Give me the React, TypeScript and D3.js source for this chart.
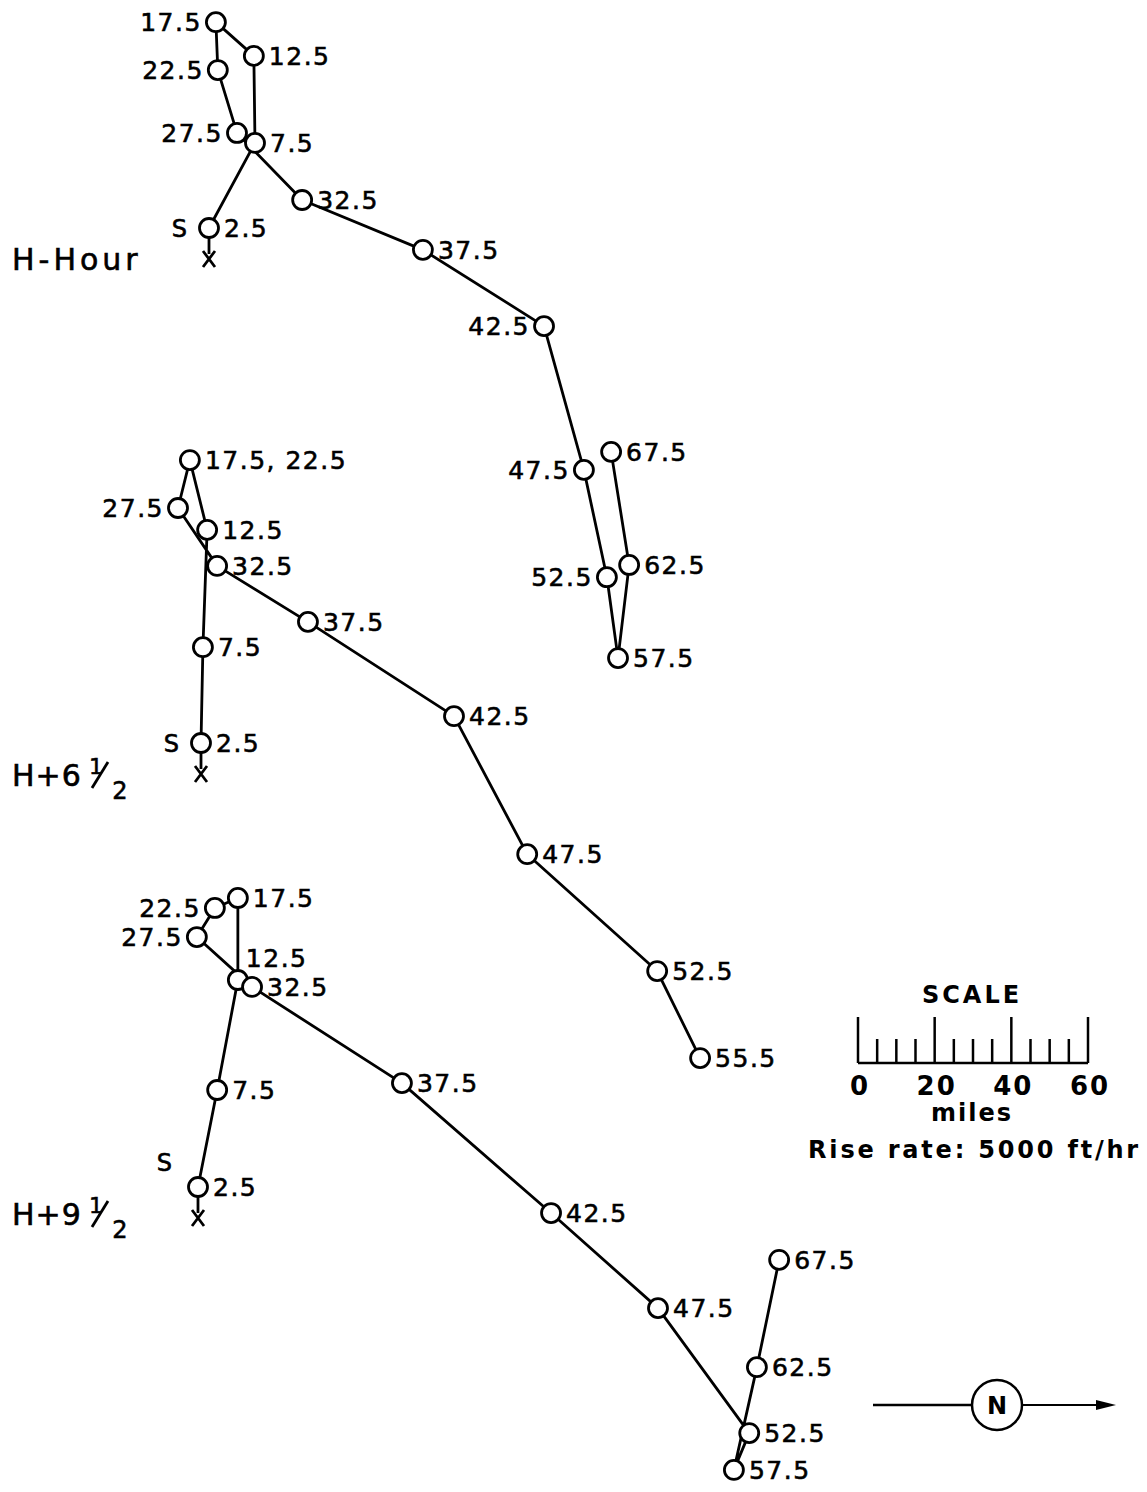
import React from 'react';
import * as d3 from 'd3';

const W = 1147;
const H = 1492;

// altitude labels (thousand ft) and balloon positions in miles from launch point S
// north is to the right on this map, so "north" is x and "east" is y (down)
const hourAlt = ['2.5', '7.5', '12.5', '17.5', '22.5', '27.5', '32.5', '37.5', '42.5', '47.5', '52.5', '57.5', '62.5', '67.5'];
const hourNorth = [0, 12.0, 11.7, 1.8, 2.3, 7.3, 24.3, 55.8, 87.4, 97.8, 103.8, 106.7, 109.6, 104.9];
const hourEast = [0, -22.2, -44.9, -53.7, -41.2, -24.8, -7.3, 5.7, 25.6, 63.1, 91.1, 112.2, 87.9, 58.4];

const h6Alt = ['2.5', '7.5', '12.5', '17.5, 22.5', '27.5', '32.5', '37.5', '42.5', '47.5', '52.5', '55.5'];
const h6North = [0, 0.5, 1.6, -2.9, -6.0, 4.2, 27.9, 66.0, 85.1, 119.0, 130.2];
const h6East = [0, -25.0, -55.6, -73.8, -61.3, -46.2, -31.6, -7.0, 29.0, 59.5, 82.2];

const h9Alt = ['2.5', '7.5', '12.5', '17.5', '22.5', '27.5', '32.5', '37.5', '42.5', '47.5', '52.5', '57.5', '62.5', '67.5'];
const h9North = [0, 5.0, 10.4, 10.4, 4.4, -0.3, 14.1, 53.2, 92.1, 120.0, 143.8, 139.8, 145.8, 151.6];
const h9East = [0, -25.3, -54.0, -75.4, -72.8, -65.2, -52.2, -27.1, 6.8, 31.6, 64.2, 73.8, 47.0, 19.0];

const scaleTicks = [0, 5, 10, 15, 20, 25, 30, 35, 40, 45, 50, 55, 60];
const scaleLabels = [0, 20, 40, 60];

// map scale: 60 miles on the scale bar
const scaleX = d3.scaleLinear().domain([0, 60]).range([858, 1088]);
const pxPerMile = (scaleX(60) - scaleX(0)) / 60;

const panels = [
  {
    key: 'hour', alt: hourAlt, north: hourNorth, east: hourEast, origin: [209, 228],
    left: ['17.5', '22.5', '27.5', '42.5', '47.5', '52.5'], above: [] as string[], sAbove: false,
    title: { y: 270, main: 'H-Hour', half: false },
  },
  {
    key: 'h6', alt: h6Alt, north: h6North, east: h6East, origin: [201, 743],
    left: ['27.5'], above: [] as string[], sAbove: false,
    title: { y: 786, main: 'H+6', half: true },
  },
  {
    key: 'h9', alt: h9Alt, north: h9North, east: h9East, origin: [198, 1187],
    left: ['22.5', '27.5'], above: ['12.5'], sAbove: true,
    title: { y: 1225, main: 'H+9', half: true },
  },
];

const font = "'DejaVu Sans', 'Liberation Sans', sans-serif";
const r = 9.5;
const ink = { fill: '#000', stroke: '#000', strokeWidth: 0.6 };

function Panel({ p }: { p: typeof panels[number] }) {
  const [ox, oy] = p.origin;
  const x = d3.scaleLinear().domain([0, 60]).range([ox, ox + 60 * pxPerMile]);
  const y = d3.scaleLinear().domain([0, 60]).range([oy, oy + 60 * pxPerMile]);
  const pts = p.alt.map((a, i) => ({ a, cx: x(p.north[i]), cy: y(p.east[i]) }));
  const line = d3.line<{ cx: number; cy: number }>().x((d) => d.cx).y((d) => d.cy);
  const s = pts[0];
  const ty = p.title.y;
  return (
    <g>
      <path d={line(pts) || ''} fill="none" stroke="#000" strokeWidth={2.8} strokeLinejoin="round" />
      {/* launch point marker */}
      <line x1={s.cx} y1={s.cy + r} x2={s.cx} y2={s.cy + 26} stroke="#000" strokeWidth={2.8} />
      <path d={`M${s.cx - 6},${s.cy + 23}L${s.cx + 6},${s.cy + 39}M${s.cx + 6},${s.cy + 23}L${s.cx - 6},${s.cy + 39}`}
        stroke="#000" strokeWidth={2.8} fill="none" />
      <text x={s.cx - (p.sAbove ? 26 : 22)} y={s.cy + (p.sAbove ? -16 : 9)} textAnchor="end"
        fontSize={24} fontFamily={font} {...ink}>S</text>
      {pts.map((d) => (
        <circle key={d.a} cx={d.cx} cy={d.cy} r={r} fill="#fff" stroke="#000" strokeWidth={2.8} />
      ))}
      {pts.map((d) => {
        const isLeft = p.left.includes(d.a);
        const isAbove = p.above.includes(d.a);
        const tx = isAbove ? d.cx + 8 : isLeft ? d.cx - 14 : d.cx + 15;
        const tyy = isAbove ? d.cy - 13 : d.cy + 9;
        return (
          <text key={'t' + d.a} x={tx} y={tyy} textAnchor={isLeft ? 'end' : 'start'}
            fontSize={25} fontFamily={font} letterSpacing={1.5} {...ink}>{d.a}</text>
        );
      })}
      <text x={12} y={ty} fontSize={30} fontFamily={font} letterSpacing={p.title.half ? 1 : 4} {...ink}>
        {p.title.main}
      </text>
      {p.title.half && (
        <g>
          <text x={96} y={ty - 12} fontSize={22} fontFamily={font} textAnchor="middle" {...ink}>1</text>
          <line x1={92} y1={ty + 2} x2={108} y2={ty - 24} stroke="#000" strokeWidth={2.8} />
          <text x={120} y={ty + 13} fontSize={24} fontFamily={font} textAnchor="middle" {...ink}>2</text>
        </g>
      )}
    </g>
  );
}

export default function App() {
  const majorTicks = scaleX.ticks(3);
  const base = 1063;
  return (
    <svg width={W} height={H} style={{ position: 'absolute', left: 0, top: 0, background: '#fff' }}>
      {panels.map((p) => <Panel key={p.key} p={p} />)}

      {/* scale bar */}
      <text x={972} y={1003} textAnchor="middle" fontSize={24} fontWeight="bold" fontFamily={font} letterSpacing={3}>SCALE</text>
      <line x1={scaleX(0)} x2={scaleX(60)} y1={base} y2={base} stroke="#000" strokeWidth={2.5} />
      {scaleTicks.map((t) => (
        <line key={t} x1={scaleX(t)} x2={scaleX(t)} y1={base}
          y2={majorTicks.includes(t) ? base - 46 : base - 24} stroke="#000" strokeWidth={2.5} />
      ))}
      {scaleLabels.map((t) => (
        <text key={t} x={scaleX(t) + 2} y={1095} textAnchor="middle" fontSize={26} fontWeight="bold" fontFamily={font} letterSpacing={2}>{t}</text>
      ))}
      <text x={972} y={1121} textAnchor="middle" fontSize={24} fontWeight="bold" fontFamily={font} letterSpacing={2}>miles</text>
      <text x={1141} y={1158} textAnchor="end" fontSize={24} fontWeight="bold" fontFamily={font} letterSpacing={2.8}>Rise rate: 5000 ft/hr</text>

      {/* north arrow */}
      <line x1={873} x2={972} y1={1405} y2={1405} stroke="#000" strokeWidth={2.5} />
      <circle cx={997} cy={1405} r={25} fill="none" stroke="#000" strokeWidth={2.5} />
      <text x={997} y={1414} textAnchor="middle" fontSize={24} fontWeight="bold" fontFamily={font}>N</text>
      <line x1={1022} x2={1100} y1={1405} y2={1405} stroke="#000" strokeWidth={2} />
      <path d="M1096,1400L1116,1405L1096,1410Z" fill="#000" />
    </svg>
  );
}
